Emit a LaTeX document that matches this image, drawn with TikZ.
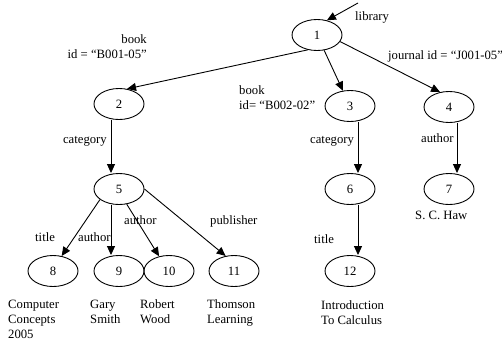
\documentclass[tikz,border=0pt]{standalone}
\usepackage{fontspec}
\setmainfont{Liberation Serif}
\usetikzlibrary{shapes.geometric,arrows.meta}

\tikzset{
	elem/.style={draw, ellipse, line width=0.9pt, minimum width=50pt, minimum height=31pt, inner sep=0pt},
	lbl/.style={inner sep=0pt, text height=9pt, text depth=3pt},
	txt/.style={inner sep=0pt, align=left},
	edge/.style={line width=0.9pt, -{Triangle[length=9pt,width=8pt]}}
}

\begin{document}
\begin{tikzpicture}[x=1pt, y=-1pt, font=\fontsize{12.7}{15}\selectfont]
				\useasboundingbox (0,0) rectangle (502,340);

				% element nodes
				\foreach \n/\x/\y in {1/317/35, 2/119/104, 3/350/106, 4/449/107, 5/119/189, 6/350/189, 7/449/189, 8/53/271, 9/119/271, 10/169/271, 11/234/271, 12/350/271}
				\node[elem] (n\n) at (\x,\y) {\n};

				\coordinate (root) at (358,3);
				\draw[edge] (root) -- (n1.56);
				\draw[edge] (n1.238) -- (n2.62);
				\draw[edge] (n1.295) -- (n3.115);
				\draw[edge] (n1.344) -- (n4.121);
				\draw[edge] ([xshift=-8pt]n2.south) -- ([xshift=-8pt]n5.north);
				\draw[edge] ([xshift=8pt]n3.south) -- ([xshift=8pt]n6.north);
				\draw[edge] ([xshift=8pt]n4.south) -- ([xshift=8pt]n7.north);
				\draw[edge] ([xshift=8pt]n6.south) -- ([xshift=8pt]n12.north);
				\draw[edge] (n5.209) -- (n8.60);
				\draw[edge] ([xshift=-8pt]n5.south) -- ([xshift=-8pt]n9.north);
				\draw[edge] (n5.297) -- (n10.124);
				\draw[edge] (n5.east) -- (n11.119);

				% edge labels
				\node[lbl, anchor=west] (library) at (355,17) {library};
				\node[txt, align=right, anchor=north east] (book1) at (147,34.8) {book\\id = “B001-05”};
				\node[txt, anchor=north west] (book2) at (239,85.8) {book\\id= “B002-02”};
				\node[lbl, anchor=west] (journal) at (388,56) {journal id = “J001-05”};
				\node[lbl, anchor=east] (cat2) at (107,140) {category};
				\node[lbl, anchor=west] (cat3) at (310,140) {category};
				\node[lbl, anchor=west] (auth4) at (421,139) {author};
				\node[lbl, anchor=west] (title6) at (314,240) {title};
				\node[lbl, anchor=west] (title8) at (35,238) {title};
				\node[lbl, anchor=west] (auth9) at (78,238) {author};
				\node[lbl, anchor=west] (auth10) at (124,221) {author};
				\node[lbl, anchor=west] (publ) at (210,221) {publisher};

				% values
				\node[lbl, anchor=west] (haw) at (415,216) {S. C. Haw};
				\node[txt, anchor=north west] (val8) at (8,299.8) {Computer\\Concepts\\2005};
				\node[txt, anchor=north west] (val9) at (90,299.8) {Gary\\Smith};
				\node[txt, anchor=north west] (val10) at (140,299.8) {Robert\\Wood};
				\node[txt, anchor=north west] (val11) at (207,299.8) {Thomson\\Learning};
				\node[txt, anchor=north west] (val12) at (321,300.8) {Introduction\\To Calculus};

			\end{tikzpicture}
\end{document}
